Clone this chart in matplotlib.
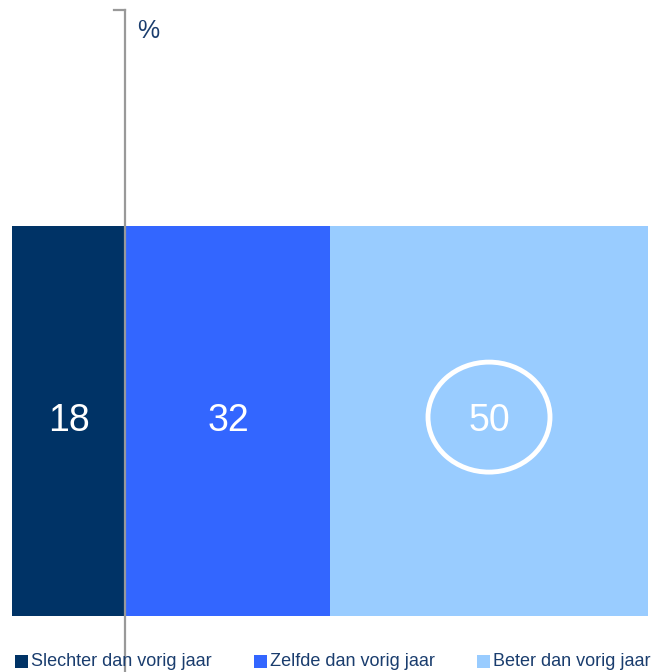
import matplotlib
matplotlib.use("Agg")
import matplotlib.pyplot as plt
from matplotlib.patches import Ellipse, Rectangle
from matplotlib.lines import Line2D

plt.rcParams['font.family'] = ['Liberation Sans', 'DejaVu Sans']

# data
categories = ["Slechter dan vorig jaar", "Zelfde dan vorig jaar", "Beter dan vorig jaar"]
values = [18, 32, 50]
colors = ["#003366", "#3366FF", "#99CCFF"]
highlight = 2  # circled segment

W, H = 657, 672
fig = plt.figure(figsize=(W / 100, H / 100), dpi=100)

# axes covering the stacked bar
ax = fig.add_axes([12 / W, (H - 616) / H, 636 / W, 390 / H])
ax.set_xlim(0, 100)
ax.set_ylim(-0.5, 0.5)
ax.axis('off')

left = 0
for i, (v, c) in enumerate(zip(values, colors)):
    ax.barh(0, v, left=left, height=1, color=c, edgecolor='none')
    ax.text(left + v / 2, 0.0, str(v), ha='center', va='center',
            color='white', fontsize=27)
    if i == highlight:
        ell = Ellipse((left + v / 2, 0.01), width=122 / 636 * 100, height=110 / 390,
                      fill=False, edgecolor='white', linewidth=3.5)
        ax.add_patch(ell)
    left += v

# vertical axis line with small top tick
fig.add_artist(Line2D([124.5 / W, 124.5 / W], [0, 1 - 10 / H], color='#999999', lw=1.6))
fig.add_artist(Line2D([114 / W, 124.5 / W], [1 - 10 / H, 1 - 10 / H], color='#999999', lw=1.6))
fig.text(137 / W, 1 - 31 / H, "%", fontsize=18, color='#1a3d6e', va='center', ha='left')

# legend
leg_sq = [15, 254, 477]
leg_y = 661
for x, c, lab in zip(leg_sq, colors, categories):
    fig.add_artist(Rectangle((x / W, 1 - (leg_y + 7) / H), 13 / W, 13 / H,
                             transform=fig.transFigure, facecolor=c, edgecolor='none'))
    fig.text((x + 16) / W, 1 - leg_y / H, lab, fontsize=13, color='#1a3d6e',
             va='center', ha='left')

fig.savefig("out.png", dpi=100)
